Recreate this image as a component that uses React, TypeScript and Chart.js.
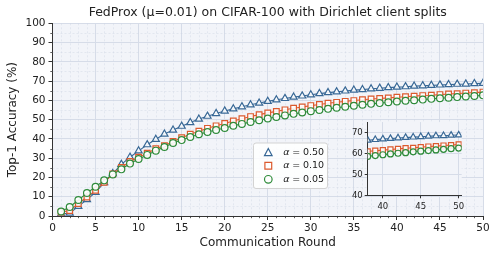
import React, { useEffect, useRef } from "react";
import { Chart, registerables } from "chart.js";
Chart.register(...registerables);

const FONT = "DejaVu Sans";
const TITLE = "FedProx (μ=0.01) on CIFAR-100 with Dirichlet client splits";
const X_TITLE = "Communication Round";
const Y_TITLE = "Top-1 Accuracy (%)";

const rounds = [
  1, 2, 3, 4, 5, 6, 7, 8, 9, 10, 11, 12, 13, 14, 15, 16, 17, 18, 19, 20, 21, 22, 23, 24, 25,
  26, 27, 28, 29, 30, 31, 32, 33, 34, 35, 36, 37, 38, 39, 40, 41, 42, 43, 44, 45, 46, 47, 48, 49, 50,
];
const alpha050 = [
  1.0, 1.5, 5.0, 8.5, 12.3, 17.3, 22.0, 26.8, 30.5, 33.8, 37.0, 39.8, 42.5, 44.6, 46.6, 48.5, 50.3, 51.8, 53.2, 54.5,
  55.6, 56.7, 57.7, 58.6, 59.5, 60.3, 61.0, 61.7, 62.3, 62.9, 63.5, 64.0, 64.4, 64.9, 65.3, 65.6, 66.0, 66.3, 66.6, 66.9,
  67.1, 67.4, 67.6, 67.8, 68.0, 68.2, 68.4, 68.5, 68.7, 68.8,
];
const alpha010 = [
  2.0, 2.8, 6.5, 9.8, 13.3, 17.5, 21.8, 25.2, 28.3, 30.5, 32.6, 34.9, 36.5, 38.7, 40.6, 42.4, 44.0, 45.5, 46.8, 48.0,
  49.3, 50.5, 51.6, 52.6, 53.5, 54.3, 55.1, 55.9, 56.6, 57.3, 57.9, 58.5, 59.0, 59.5, 59.9, 60.3, 60.7, 61.0, 61.3, 61.6,
  61.9, 62.2, 62.5, 62.7, 63.0, 63.3, 63.5, 63.8, 64.0, 64.3,
];
const alpha005 = [
  2.3, 4.7, 8.3, 11.9, 15.2, 18.5, 21.6, 24.2, 27.2, 29.6, 31.7, 33.9, 35.8, 37.9, 39.4, 41.0, 42.4, 43.6, 44.6, 45.7,
  46.8, 47.8, 48.8, 49.7, 50.6, 51.4, 52.2, 53.0, 53.7, 54.4, 55.0, 55.6, 56.2, 56.7, 57.2, 57.7, 58.2, 58.6, 59.0, 59.4,
  59.8, 60.1, 60.4, 60.8, 61.1, 61.4, 61.7, 62.0, 62.3, 62.6,
];
const seriesLabels = ["0.50", "0.10", "0.05"];

const BLUE = "#386896";
const ORANGE = "#dc5a2e";
const GREEN = "#2e8b3a";
const BG = "#f2f4f9";
const GRID = "#d6dce8";
const MINOR = "rgba(205,212,226,0.7)";
const AXIS = "#333333";
const TEXT = "#222222";

const pts = (vals: number[]) => vals.map((v, i) => ({ x: rounds[i], y: v }));

function makeDatasets(r: number) {
  return [
    {
      label: seriesLabels[0], data: pts(alpha050), borderColor: BLUE, pointBorderColor: BLUE,
      pointBackgroundColor: "rgba(255,255,255,0.9)", pointStyle: "triangle", pointRadius: r + 0.5,
      pointBorderWidth: 1.2, borderWidth: 1.1, order: 3, tension: 0,
    },
    {
      label: seriesLabels[1], data: pts(alpha010), borderColor: ORANGE, pointBorderColor: ORANGE,
      pointBackgroundColor: "rgba(255,255,255,0.9)", pointStyle: "rect", pointRadius: r + 0.4,
      pointBorderWidth: 1.2, borderWidth: 1.1, order: 2, tension: 0,
    },
    {
      label: seriesLabels[2], data: pts(alpha005), borderColor: GREEN, pointBorderColor: GREEN,
      pointBackgroundColor: "rgba(255,255,255,0.9)", pointStyle: "circle", pointRadius: r - 0.2,
      pointBorderWidth: 1.2, borderWidth: 1.1, order: 1, tension: 0,
    },
  ];
}

const bgPlugin = {
  id: "bgPlugin",
  beforeDraw(chart: any) {
    const { ctx, chartArea: a } = chart;
    ctx.save();
    ctx.fillStyle = BG;
    ctx.fillRect(a.left, a.top, a.right - a.left, a.bottom - a.top);
    ctx.restore();
  },
};

const mainPlugin = {
  id: "mainPlugin",
  beforeDatasetsDraw(chart: any) {
    const { ctx, chartArea: a, scales } = chart;
    const xs = scales.x, ys = scales.y;
    ctx.save();
    ctx.strokeStyle = MINOR;
    ctx.lineWidth = 0.6;
    ctx.setLineDash([2, 2]);
    for (let v = 1; v < 50; v++) {
      if (v % 5 === 0) continue;
      const px = Math.round(xs.getPixelForValue(v)) + 0.5;
      ctx.beginPath(); ctx.moveTo(px, a.top); ctx.lineTo(px, a.bottom); ctx.stroke();
    }
    for (let v = 5; v < 100; v += 10) {
      const py = Math.round(ys.getPixelForValue(v)) + 0.5;
      ctx.beginPath(); ctx.moveTo(a.left, py); ctx.lineTo(a.right, py); ctx.stroke();
    }
    ctx.restore();
  },
  afterDraw(chart: any) {
    const { ctx, chartArea: a, scales } = chart;
    const xs = scales.x, ys = scales.y;
    ctx.save();
    ctx.strokeStyle = AXIS;
    ctx.lineWidth = 0.8;
    for (let v = 1; v < 50; v++) {
      if (v % 5 === 0) continue;
      const px = Math.round(xs.getPixelForValue(v)) + 0.5;
      ctx.beginPath(); ctx.moveTo(px, a.bottom); ctx.lineTo(px, a.bottom + 2.2); ctx.stroke();
    }
    for (let v = 5; v < 100; v += 10) {
      const py = Math.round(ys.getPixelForValue(v)) + 0.5;
      ctx.beginPath(); ctx.moveTo(a.left, py); ctx.lineTo(a.left - 2.2, py); ctx.stroke();
    }
    // legend
    const bx = 253, by = 142.5, bw = 74, bh = 45.5;
    ctx.beginPath();
    (ctx as any).roundRect(bx + 0.5, by + 0.5, bw, bh, 2.5);
    ctx.fillStyle = "rgba(255,255,255,0.85)";
    ctx.fill();
    ctx.strokeStyle = "#d3d3d3";
    ctx.lineWidth = 1;
    ctx.stroke();
    const rows = [152.3, 165.8, 179.3];
    const cols = [BLUE, ORANGE, GREEN];
    const mx = 268.3;
    ctx.lineWidth = 1.2;
    for (let i = 0; i < 3; i++) {
      const y = rows[i];
      ctx.strokeStyle = cols[i];
      ctx.fillStyle = "rgba(255,255,255,0.9)";
      ctx.beginPath();
      if (i === 0) {
        ctx.moveTo(mx, y - 3.8); ctx.lineTo(mx + 3.8, y + 3.3); ctx.lineTo(mx - 3.8, y + 3.3); ctx.closePath();
      } else if (i === 1) {
        ctx.rect(mx - 3.4, y - 3.4, 6.8, 6.8);
      } else {
        ctx.arc(mx, y, 3.8, 0, Math.PI * 2);
      }
      ctx.fill(); ctx.stroke();
      ctx.fillStyle = TEXT;
      ctx.textBaseline = "middle";
      ctx.textAlign = "left";
      let tx = 283.3;
      ctx.font = `italic 9.5px "${FONT}"`;
      ctx.fillText("α", tx, y);
      tx += ctx.measureText("α").width + 2.6;
      ctx.font = `9.5px "${FONT}"`;
      ctx.fillText("=", tx, y);
      tx += ctx.measureText("=").width + 2.8;
      ctx.fillText(seriesLabels[i], tx, y);
    }
    ctx.restore();
  },
};

export default function App() {
  const mainRef = useRef<HTMLCanvasElement | null>(null);
  const insetRef = useRef<HTMLCanvasElement | null>(null);

  useEffect(() => {
    document.body.style.margin = "0";
    const tickFont = { family: FONT, size: 10.5 };
    const main = new Chart(mainRef.current!, {
      type: "line",
      data: { datasets: makeDatasets(3.6) as any },
      plugins: [bgPlugin, mainPlugin],
      options: {
        animation: false,
        responsive: false,
        maintainAspectRatio: false,
        events: [],
        layout: { padding: { top: 0, right: 15, left: 0, bottom: 0 } },
        plugins: {
          legend: { display: false },
          tooltip: { enabled: false },
          title: {
            display: true, text: TITLE, color: TEXT, fullSize: false,
            font: { family: FONT, size: 12.5, weight: "normal" as any },
            padding: { top: 5, bottom: 3.3 },
          },
        },
        scales: {
          x: {
            type: "linear", min: 0, max: 50,
            ticks: { stepSize: 5, font: tickFont, color: TEXT, padding: 1.5, maxRotation: 0, autoSkip: false },
            grid: { color: GRID, lineWidth: 1, tickLength: 4, tickColor: AXIS, tickWidth: 1 },
            border: { display: true, color: AXIS, width: 1 },
            title: { display: true, text: X_TITLE, color: TEXT, font: { family: FONT, size: 12 }, padding: { top: 0, bottom: 8 } },
            afterFit: (s: any) => { s.height = 42; },
          },
          y: {
            type: "linear", min: 0, max: 100,
            ticks: { stepSize: 10, font: tickFont, color: TEXT, padding: 3 },
            grid: { color: GRID, lineWidth: 1, tickLength: 4, tickColor: AXIS, tickWidth: 1 },
            border: { display: true, color: AXIS, width: 1 },
            title: { display: true, text: Y_TITLE, color: TEXT, font: { family: FONT, size: 12 }, padding: { top: 6, bottom: 0 } },
            afterFit: (s: any) => { s.width = 52.5; },
          },
        },
      },
    });

    const insetFont = { family: FONT, size: 8.5 };
    const inset = new Chart(insetRef.current!, {
      type: "line",
      data: { datasets: makeDatasets(3.2) as any },
      plugins: [bgPlugin],
      options: {
        animation: false,
        responsive: false,
        maintainAspectRatio: false,
        events: [],
        layout: { padding: { top: 6.7, right: 8.3, left: 0, bottom: 0 } },
        plugins: { legend: { display: false }, tooltip: { enabled: false }, title: { display: false } },
        scales: {
          x: {
            type: "linear", min: 38, max: 50.4,
            afterBuildTicks: (s: any) => { s.ticks = [{ value: 40 }, { value: 45 }, { value: 50 }]; },
            ticks: { font: insetFont, color: TEXT, padding: 3, maxRotation: 0, autoSkip: false },
            grid: { color: GRID, lineWidth: 1, tickLength: 3, tickColor: AXIS, tickWidth: 1 },
            border: { display: true, color: AXIS, width: 1 },
            afterFit: (s: any) => { s.height = 19.7; },
          },
          y: {
            type: "linear", min: 40, max: 75,
            afterBuildTicks: (s: any) => { s.ticks = [{ value: 40 }, { value: 50 }, { value: 60 }, { value: 70 }]; },
            ticks: { font: insetFont, color: TEXT, padding: 2 },
            grid: { color: GRID, lineWidth: 1, tickLength: 3, tickColor: AXIS, tickWidth: 1 },
            border: { display: true, color: AXIS, width: 1 },
            afterFit: (s: any) => { s.width = 27.7; },
          },
        },
      },
    });

    return () => { main.destroy(); inset.destroy(); };
  }, []);

  return (
    <div style={{ position: "relative", width: 498, height: 258, background: "#fff" }}>
      <canvas ref={mainRef} width={498} height={258} style={{ position: "absolute", left: 0, top: 0, width: 498, height: 258 }} />
      <canvas ref={insetRef} width={130} height={100} style={{ position: "absolute", left: 340, top: 115, width: 130, height: 100 }} />
    </div>
  );
}
